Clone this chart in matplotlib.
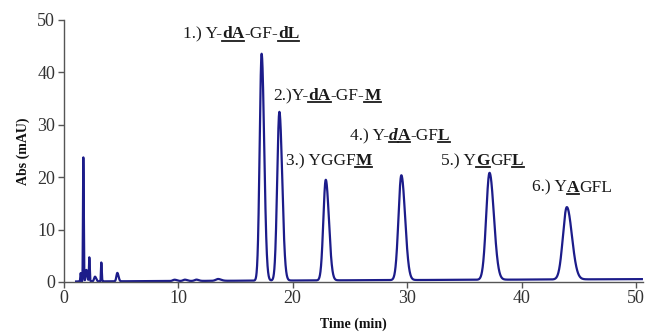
import numpy as np
import matplotlib
matplotlib.use("Agg")
import matplotlib.pyplot as plt
import matplotlib.transforms as mtransforms
from matplotlib.lines import Line2D

# ---- data ----
peak_times = [17.3, 18.85, 22.9, 29.5, 37.2, 43.95]
peak_heights = [43.3, 32.2, 19.2, 20.0, 20.4, 13.8]
peak_sigmas = [0.17, 0.19, 0.21, 0.25, 0.29, 0.34]

early_times = [1.5, 1.73, 2.0, 2.25, 2.75, 3.3, 4.7, 9.7, 10.6, 11.6, 13.5]
early_heights = [1.6, 23.8, 2.2, 4.6, 0.9, 3.6, 1.6, 0.25, 0.25, 0.25, 0.35]
early_sigmas = [0.03, 0.03, 0.06, 0.03, 0.08, 0.03, 0.08, 0.15, 0.15, 0.15, 0.2]

baseline_times = [1.1, 16.0, 50.5]
baseline_levels = [0.1, 0.25, 0.55]

x_ticks = [0, 10, 20, 30, 40, 50]
y_ticks = [0, 10, 20, 30, 40, 50]

# labels: (x data, y data, segments) segment style: n=normal, b=bold underline, bi=bold italic underline
labels = [
    (10.44, 47.5, [("1.) Y-", "n"), ("dA", "b"), ("-GF-", "n"), ("dL", "b")]),
    (18.3, 35.7, [("2.)Y-", "n"), ("dA", "b"), ("-GF-", "n"), ("M", "b")]),
    (19.4, 23.3, [("3.) YGGF", "n"), ("M", "b")]),
    (25.0, 28.05, [("4.) Y-", "n"), ("d", "bi"), ("A", "b"), ("-GF", "n"), ("L", "b")]),
    (33.0, 23.3, [("5.) Y", "n"), ("G", "b"), ("GF", "n"), ("L", "b")]),
    (40.9, 18.2, [("6.) Y", "n"), ("A", "b"), ("GFL", "n")]),
]

# ---- build trace ----
t = np.linspace(1.1, 50.5, 6000)
signal = np.interp(t, baseline_times, baseline_levels)
for c, h, s in zip(peak_times + early_times, peak_heights + early_heights,
                   peak_sigmas + early_sigmas):
    sig = np.where(t < c, s, s * 1.3)
    signal = signal + h * np.exp(-0.5 * ((t - c) / sig) ** 2)

plt.rcParams['font.family'] = ['Liberation Serif', 'DejaVu Serif']
fig = plt.figure(figsize=(6.46, 3.33), dpi=100)
ax = fig.add_axes([63.5 / 646, 1 - 282 / 333, (643 - 63.5) / 646, 262 / 333])
ax.plot(t, signal, color='#1c1c8a', lw=1.6)
ax.set_xlim(0, 50.6)
ax.set_ylim(0, 50)
ax.set_xticks(x_ticks)
ax.set_yticks(y_ticks)
for s in ['top', 'right']:
    ax.spines[s].set_visible(False)
for s in ['left', 'bottom']:
    ax.spines[s].set_color('#555555')
    ax.spines[s].set_linewidth(1.0)
ax.tick_params(direction='out', length=4, width=1.0, colors='#555555',
               labelcolor='#333333', labelsize=13, pad=2)
ax.set_xlabel('Time (min)', fontsize=10, fontweight='bold', labelpad=7, color='#111111')
ax.set_ylabel('Abs (mAU)', fontsize=10, fontweight='bold', labelpad=5, color='#111111')

fig.canvas.draw()
renderer = fig.canvas.get_renderer()
ident = mtransforms.IdentityTransform()
fs = 12.5
for xd, yd, segs in labels:
    px, py = ax.transData.transform((xd, yd))
    py -= 5
    for txt, style in segs:
        kw = dict(fontsize=fs, color='#1a1a1a', va='baseline', ha='left')
        if style in ('b', 'bi'):
            kw['fontweight'] = 'bold'
        if style == 'bi':
            kw['fontstyle'] = 'italic'
        tobj = fig.text(px, py, txt, transform=ident, **kw)
        bb = tobj.get_window_extent(renderer)
        w = bb.width
        if style in ('b', 'bi'):
            fig.add_artist(Line2D([px, px + w], [py - 2.4, py - 2.4], transform=ident,
                                  color='#1a1a1a', lw=1.3))
        px += w

fig.savefig('out.png', dpi=100)
